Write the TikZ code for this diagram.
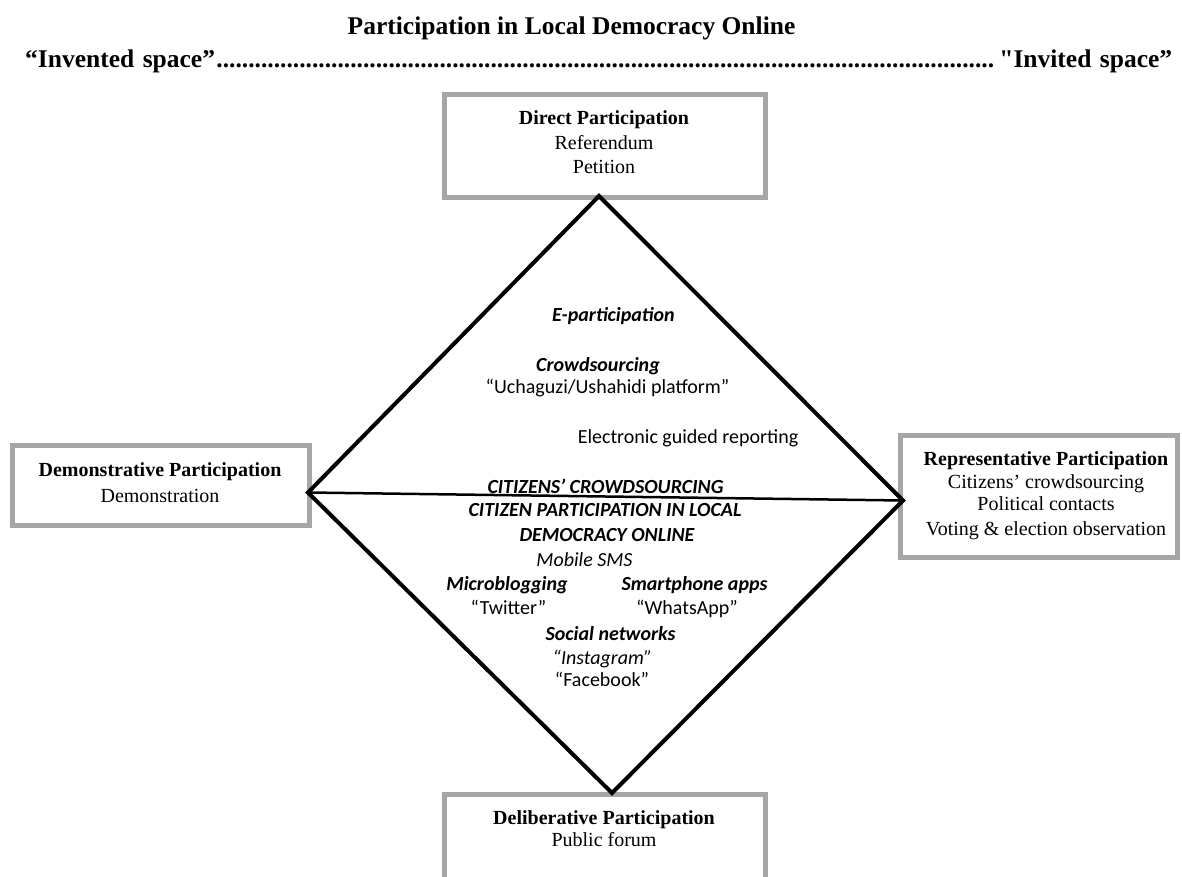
\documentclass[tikz,border=0pt]{standalone}
\usepackage{fontspec}
\setmainfont{Liberation Serif}
\newfontfamily\rawserif{Liberation Serif}[Ligatures=TeXOff]
\newfontfamily\calfont{Carlito}
\definecolor{boxgray}{RGB}{166,166,166}
\begin{document}
\begin{tikzpicture}[x=1pt,y=-1pt,
  frame/.style={draw=boxgray,line width=5pt,inner sep=0pt,fill=white},
  ttl/.style={font=\fontsize{25.5}{30}\selectfont\bfseries,inner sep=0pt,anchor=base},
  bhead/.style={font=\fontsize{20}{24}\selectfont\bfseries,inner sep=0pt,anchor=base},
  btxt/.style={font=\fontsize{20}{24}\selectfont,inner sep=0pt,anchor=base},
  dbi/.style={font=\calfont\fontsize{20}{24}\selectfont\bfseries\itshape,inner sep=0pt,anchor=base},
  dit/.style={font=\calfont\fontsize{20}{24}\selectfont\itshape,inner sep=0pt,anchor=base},
  drm/.style={font=\calfont\fontsize{20}{24}\selectfont,inner sep=0pt,anchor=base},
  dline/.style={line width=4pt,line join=miter,line cap=butt},
  mline/.style={line width=2.5pt}]
\useasboundingbox (0,0) rectangle (1182,877);
\clip (0,0) rectangle (1182,877);
\fill[white] (0,0) rectangle (1182,877);

% titles
\node[ttl] (title) at (571.5,35) {Participation in Local Democracy Online};
\node[ttl,anchor=base west,text width=1147pt,align=left] (spaces) at (25,68)
  {\noindent“Invented space”\leaders\hbox{.}\hfill{\rawserif\bfseries"}Invited space”};

% boxes
\node[frame,minimum width=321pt,minimum height=103pt] (topbox) at (605,146) {};
\node[frame,minimum width=297pt,minimum height=80pt] (leftbox) at (161,485.5) {};
\node[frame,minimum width=277pt,minimum height=122pt] (rightbox) at (1039,496.5) {};
\node[frame,minimum width=321pt,minimum height=140pt] (botbox) at (605,864.5) {};

% box texts
\node[bhead] (t1) at (604,125) {Direct Participation};
\node[btxt] (t2) at (604,149.3) {Referendum};
\node[btxt] (t3) at (604,173.3) {Petition};

\node[bhead] (l1) at (160,476.7) {Demonstrative Participation};
\node[btxt] (l2) at (160,502.7) {Demonstration};

\node[bhead] (r1) at (1046,465) {Representative Participation};
\node[btxt] (r2) at (1046,488.3) {Citizens’ crowdsourcing};
\node[btxt] (r3) at (1046,510.7) {Political contacts};
\node[btxt] (r4) at (1046,535) {Voting \& election observation};

\node[bhead] (b1) at (604,824.3) {Deliberative Participation};
\node[btxt] (b2) at (604,846.7) {Public forum};

% diamond
\coordinate (dt) at (599,196);
\coordinate (dl) at (308,492.5);
\coordinate (dr) at (903,500.5);
\coordinate (db) at (612,793);
\draw[dline] (dt) -- (dr) -- (db) -- (dl) -- cycle;
\draw[mline] (dl) -- (dr);

% diamond texts
\node[dbi] (e1) at (613.5,321.5) {E-participation};
\node[dbi] (e2) at (598,371.5) {Crowdsourcing};
\node[drm] (e3) at (607.5,393) {“Uchaguzi/Ushahidi platform”};
\node[drm] (e4) at (688,443.7) {Electronic guided reporting};
\node[dbi] (c1) at (605.5,493.3) {CITIZENS’ CROWDSOURCING};
\node[dbi] (c2) at (605,516.7) {CITIZEN PARTICIPATION IN LOCAL};
\node[dbi] (c3) at (607,541) {DEMOCRACY ONLINE};
\node[dit] (m1) at (584.5,566.7) {Mobile SMS};
\node[dbi] (m2) at (507,590.7) {Microblogging};
\node[dbi] (m3) at (694.5,590.7) {Smartphone apps};
\node[drm] (m4) at (508.5,614) {“Twitter”};
\node[drm] (m5) at (687,614) {“WhatsApp”};
\node[dbi] (s1) at (610.5,640) {Social networks};
\node[dit] (s2) at (602.5,664.3) {“Instagram”};
\node[drm] (s3) at (602,686.7) {“Facebook”};
\end{tikzpicture}
\end{document}
